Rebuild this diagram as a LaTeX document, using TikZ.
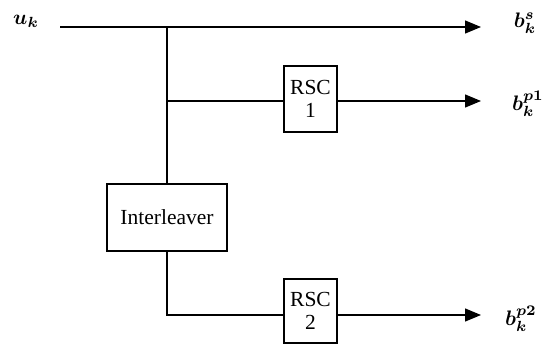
\documentclass[tikz,border=0pt]{standalone}
\usepackage{fontspec}
\usepackage{bm}
\setmainfont{Liberation Serif}
\usetikzlibrary{arrows.meta}
\tikzset{
  blk/.style={draw, line width=1.3pt, fill=white, inner sep=0pt, align=center,
    font=\fontsize{21.5}{22.5}\selectfont},
  wire/.style={line width=1.3pt},
  arr/.style={wire, -{Triangle[length=16pt,width=13pt]}},
  lbl/.style={font=\normalsize, inner sep=0pt}
}
\newcommand{\biglbl}[1]{\scalebox{2.1}{$\bm{#1}$}}
\begin{document}
\begin{tikzpicture}[x=1pt,y=-1pt]
\useasboundingbox (0,0) rectangle (545,345);
% nodes
\node[blk, minimum width=53pt, minimum height=66pt] (rsc1) at (310.5,99) {RSC\\1};
\node[blk, minimum width=53pt, minimum height=64pt] (rsc2) at (310.5,311) {RSC\\2};
\node[blk, minimum width=120pt, minimum height=67pt] (intl) at (167,217.5) {Interleaver};
\node[lbl] (uk) at (26,21) {\biglbl{u_k}};
\node[lbl] (bs) at (525,23) {\biglbl{b_k^s}};
\node[lbl] (bp1) at (528,104) {\biglbl{b_k^{p1}}};
\node[lbl] (bp2) at (521,319) {\biglbl{b_k^{p2}}};
\coordinate (in) at (60,27);
\coordinate (split) at (167,27);
\coordinate (br1) at (167,101);
\coordinate (o0) at (481,27);
\coordinate (o1) at (481,101);
\coordinate (o2) at (481,315);
\coordinate (c2) at (167,315);
% connectors
\draw[arr] (in) -- (o0);
\draw[wire] (split) -- (intl.north);
\draw[wire] (br1) -- (rsc1.west |- br1);
\draw[arr] (rsc1.east |- o1) -- (o1);
\draw[wire] (intl.south) -- (c2) -- (rsc2.west |- c2);
\draw[arr] (rsc2.east |- o2) -- (o2);
\end{tikzpicture}
\end{document}
